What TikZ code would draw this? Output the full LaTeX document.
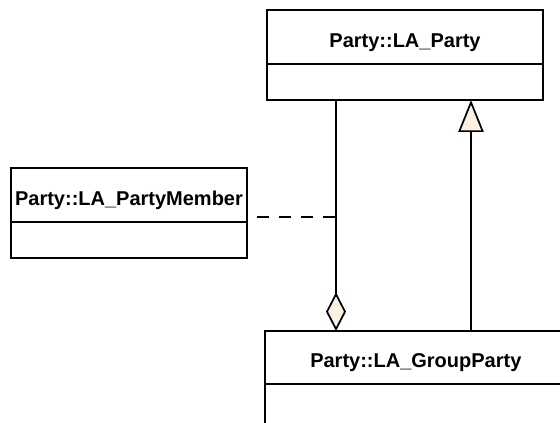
\documentclass[tikz,border=0pt]{standalone}
\usepackage{fontspec}
\setmainfont{Liberation Sans}
\usetikzlibrary{arrows.meta,positioning,calc}

\definecolor{tipfill}{RGB}{251,240,225}

\begin{document}
\begin{tikzpicture}[
    x=0.75pt, y=-0.75pt,
    line width=1.3pt,
    classlbl/.style={text height=16pt, text depth=0pt, font=\fontsize{15}{18}\selectfont\bfseries},
    classhead/.style={draw, line width=1.3pt, anchor=north west, inner sep=0pt, outer sep=0pt,
        minimum height=40.5pt, classlbl},
    classattr/.style={draw, line width=1.3pt, anchor=north, inner sep=0pt, outer sep=0pt, minimum height=27pt},
    aggr/.style={-{Diamond[width=15pt, length=29pt, fill=tipfill]}},
    gener/.style={-{Triangle[width=19pt, length=24pt, fill=tipfill]}},
    assoclink/.style={dash pattern=on 9pt off 7.5pt}
]

    % --- bounding box ---
    \clip (0,0) rectangle (560,423);
    \useasboundingbox (0,0) rectangle (560,423);

    % --- classes ---
    % Party::LA_Party (top)
    \node[classhead, minimum width=207pt] (party) at (267,10) {Party::LA\_Party};
    \node[classattr, minimum width=207pt] (party_attr) at (party.south) {};

    % Party::LA_PartyMember (left)
    \node[classhead, minimum width=177pt] (member) at (11,168) {Party::LA\_PartyMember};
    \node[classattr, minimum width=177pt] (member_attr) at (member.south) {};

    % Party::LA_GroupParty (bottom, runs off the page)
    \node[classhead, minimum width=236pt, minimum height=39.75pt] (group) at (265,331) {};
    \node[classlbl, inner sep=0pt] (group_lbl)
        at ($(group.center)+(-6.5,-1)$) {Party::LA\_GroupParty};
    \node[classattr, minimum width=236pt, minimum height=45pt] (group_attr) at (group.south) {};

    % --- connectors ---
    \coordinate (assoc_x) at (336,0);
    \coordinate (gen_x) at (471,0);
    \coordinate (assoc_mid) at (336,217);

    % aggregation (diamond at LA_GroupParty)
    \draw[aggr] (party_attr.south -| assoc_x) -- (group.north -| assoc_x);

    % generalization (LA_GroupParty -> LA_Party)
    \draw[gener] (group.north -| gen_x) -- (party_attr.south -| gen_x);

    % association class link
    \draw[assoclink] ($(assoc_mid -| member.east)+(10,0)$) -- (assoc_mid);

\end{tikzpicture}
\end{document}
